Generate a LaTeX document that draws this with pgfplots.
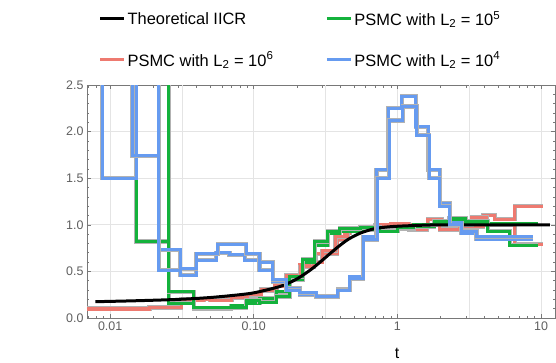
\documentclass[border=0pt]{standalone}
\usepackage{pgfplots}
\pgfplotsset{compat=1.18}
\usepackage{fontspec}
\setmainfont{Liberation Sans}
\definecolor{cblue}{RGB}{102,155,240}
\definecolor{cgreen}{RGB}{20,178,60}
\definecolor{cred}{RGB}{238,122,112}
\definecolor{cgrid}{RGB}{228,228,228}
\definecolor{cframe}{RGB}{120,120,120}
\definecolor{ctick}{RGB}{95,95,95}
\begin{document}
\begin{tikzpicture}[x=1bp,y=1bp]
\path[use as bounding box] (0,0) rectangle (556,362);
\begin{axis}[
  at={(87bp,44bp)}, anchor=south west,
  scale only axis, width=468bp, height=233bp,
  xmode=log, xmin=0.0069, xmax=12.5, ymin=0, ymax=2.5,
  xtick={0.01,0.1,1,10}, xticklabels={0.01,0.10,1,10},
  ytick={0,0.5,1,1.5,2,2.5}, yticklabels={0.0,0.5,1.0,1.5,2.0,2.5},
  minor xtick={0.007,0.008,0.009,0.02,0.03,0.04,0.05,0.06,0.07,0.08,0.09,0.2,0.3,0.4,0.5,0.6,0.7,0.8,0.9,2,3,4,5,6,7,8,9},
  minor ytick={0.1,0.2,0.3,0.4,0.6,0.7,0.8,0.9,1.1,1.2,1.3,1.4,1.6,1.7,1.8,1.9,2.1,2.2,2.3,2.4},
  extra x ticks={0.0316228,0.316228,3.16228}, extra x tick labels={},
  extra x tick style={grid=major, major tick length=0pt},
  grid=major, major grid style={cgrid, line width=0.8bp},
  tick align=inside, xtick pos=both, ytick pos=both,
  xticklabel pos=lower, yticklabel pos=left,
  major tick length=4bp, minor tick length=2.5bp,
  tick style={cframe, line width=0.6bp},
  axis line style={cframe, line width=0.8bp},
  tick label style={font=\fontsize{12.5}{12.5}\selectfont, text=ctick},
  xlabel={t}, xlabel style={font=\fontsize{16}{16}\selectfont, at={(axis description cs:0.6624,-0.152)}, anchor=center},
  legend columns=2,
  legend cell align=left,
  legend style={draw=none, fill=none, at={(axis description cs:0.018,1.335)}, anchor=north west,
    font=\fontsize{16.5}{16.5}\selectfont, row sep=21bp, column sep=0bp,
    nodes={inner sep=2bp},
    /tikz/every even column/.append style={column sep=50bp}},
  legend image code/.code={\draw[#1] (0bp,0bp) -- (24bp,0bp);},
  psmc/.style={const plot, line width=3bp, line join=miter, preaction={draw, black!30, line width=4.2bp}},
  clip=true,
]
\addlegendimage{black, line width=3bp}
\addlegendentry{Theoretical IICR}
\addlegendimage{cgreen, line width=3bp}
\addlegendentry{PSMC with L\textsubscript{2} = 10\textsuperscript{5}}
\addlegendimage{cred, line width=3bp}
\addlegendentry{PSMC with L\textsubscript{2} = 10\textsuperscript{6}}
\addlegendimage{cblue, line width=3bp}
\addlegendentry{PSMC with L\textsubscript{2} = 10\textsuperscript{4}}

% red replicates
\addplot[forget plot, psmc, cred] coordinates {
(0.0069,0.093) (0.01879,0.115) (0.03125,0.19) (0.045,0.20) (0.06,0.215) (0.085,0.24) (0.105,0.27)
(0.1123,0.31) (0.145,0.34) (0.1684,0.46) (0.2085,0.57) (0.25,0.62) (0.27,0.69) (0.38,0.84)
(0.43,0.91) (0.465,0.94) (0.53,0.96) (0.7,1.0) (0.9,0.97) (1.1,1.0) (1.5,0.99) (1.63,1.06)
(2.03,1.0) (3.0,0.98) (3.95,1.105) (4.76,1.06) (6.57,1.20) (10.34,1.20)};
\addplot[forget plot, psmc, cred] coordinates {
(0.0069,0.105) (0.0188,0.11) (0.0313,0.20) (0.05,0.19) (0.07,0.22) (0.09,0.25) (0.1123,0.29)
(0.14,0.36) (0.168,0.44) (0.21,0.55) (0.26,0.60) (0.30,0.72) (0.37,0.87) (0.45,0.95) (0.55,0.97)
(0.7,0.96) (0.9,1.01) (1.2,0.95) (1.6,1.0) (1.97,0.95) (2.7,1.0) (3.3,1.08) (4.2,1.0) (6.57,0.79) (10.34,0.79)};

% green replicates
\addplot[forget plot, psmc, cgreen] coordinates {
(0.0069,4) (0.01517,0.82) (0.0256,0.16) (0.0382,0.10) (0.0697,0.13) (0.0887,0.16) (0.1097,0.21)
(0.1435,0.28) (0.1776,0.41) (0.2198,0.60) (0.2653,0.78) (0.3284,0.91) (0.396,0.93) (0.55,0.95)
(0.75,0.94) (1.0,0.96) (1.3,0.98) (1.8,1.02) (2.3,1.05) (3.0,1.03) (4.26,1.01) (9.5,1.01)};
\addplot[forget plot, psmc, cgreen] coordinates {
(0.0069,4) (0.0256,0.28) (0.0382,0.11) (0.0697,0.11) (0.0887,0.19) (0.1097,0.17) (0.1435,0.23)
(0.1776,0.44) (0.2198,0.63) (0.2653,0.82) (0.3284,0.93) (0.396,0.96) (0.55,0.97) (0.75,0.93)
(1.0,0.97) (1.3,1.0) (1.8,1.04) (2.3,1.07) (3.0,1.04) (4.26,0.93) (6.06,0.78) (9.5,0.78)};

% theoretical
\addplot[forget plot, black, line width=3bp, smooth] coordinates {
(0.0079,0.175) (0.015,0.185) (0.03,0.20) (0.05,0.22) (0.08,0.25) (0.1,0.27) (0.13,0.31)
(0.16,0.35) (0.2,0.42) (0.25,0.52) (0.3,0.62) (0.37,0.74) (0.45,0.84) (0.55,0.91) (0.7,0.96)
(0.9,0.98) (1.2,0.99) (2,1.0) (5,1.0) (11.5,1.0)};

% blue replicates
\addplot[forget plot, psmc, cblue] coordinates {
(0.0069,4) (0.0088,1.5) (0.01517,4) (0.0218,0.73) (0.0308,0.46) (0.0397,0.62) (0.0548,0.70)
(0.0678,0.68) (0.0863,0.62) (0.1097,0.515) (0.1359,0.39) (0.1684,0.32) (0.2085,0.25) (0.2727,0.23)
(0.3855,0.31) (0.465,0.44) (0.576,0.87) (0.714,1.59) (0.86,2.25) (1.071,2.38) (1.341,2.05)
(1.634,1.59) (1.971,1.23) (2.315,1.02) (2.793,0.91) (3.553,0.845) (8.81,0.845)};
\addplot[forget plot, psmc, cblue] coordinates {
(0.0069,4) (0.01423,1.74) (0.0218,0.515) (0.0308,0.53) (0.0397,0.69) (0.0562,0.79) (0.0887,0.69)
(0.1097,0.60) (0.1359,0.41) (0.1684,0.30) (0.2085,0.27) (0.2727,0.23) (0.3855,0.30) (0.465,0.42)
(0.576,0.84) (0.725,1.50) (0.875,2.12) (1.09,2.27) (1.36,1.96) (1.66,1.50) (1.971,1.20)
(2.315,1.0) (2.793,0.93) (3.553,0.87) (8.81,0.87)};

\node[rotate=90, align=center, font=\fontsize{16}{24}\selectfont] at (axis description cs:-0.1229,0.4356)
  {a\textsubscript{1} = 0.5\\a\textsubscript{2} = 0.5};
\end{axis}
\end{tikzpicture}
\end{document}
